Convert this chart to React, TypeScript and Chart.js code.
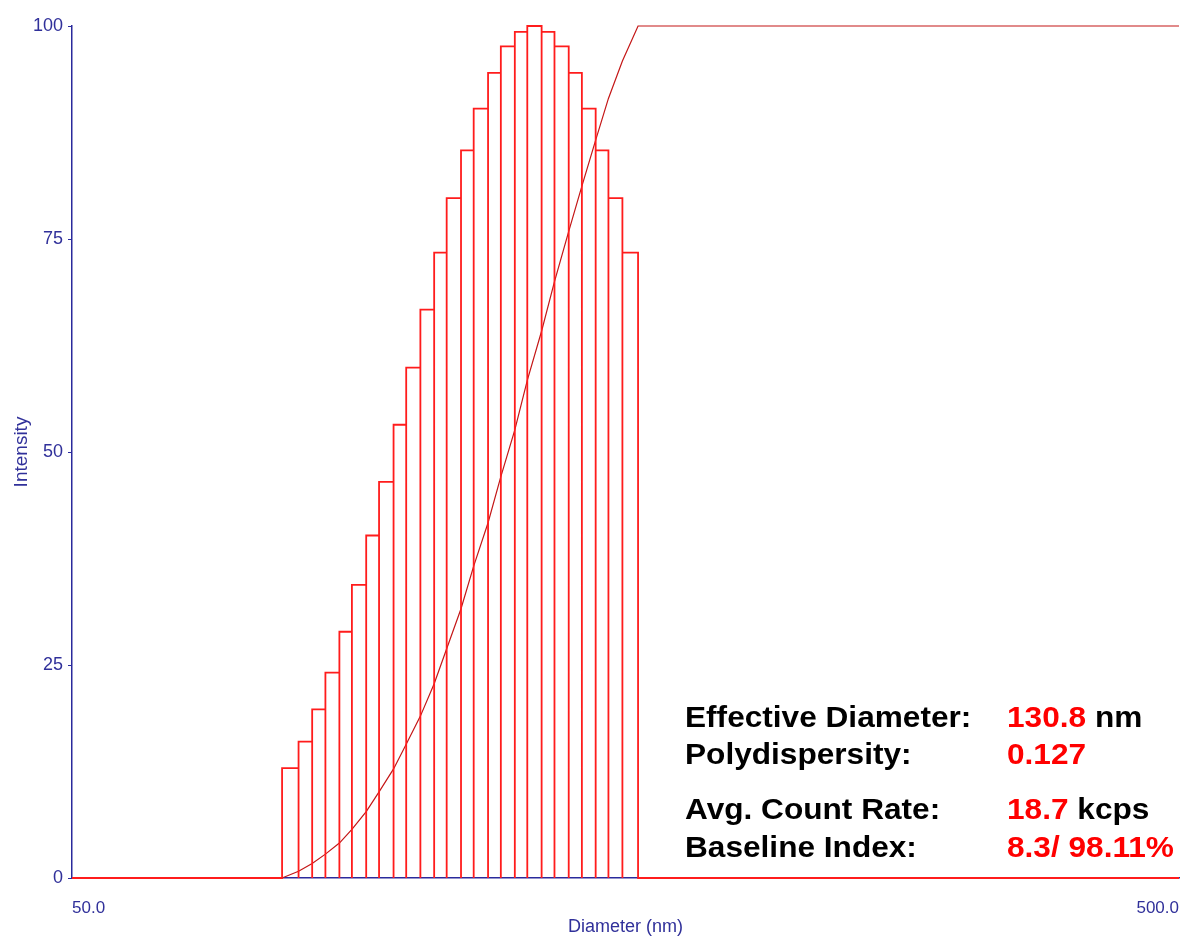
import { useEffect, useRef } from "react";
import { Chart, registerables } from "chart.js";

Chart.register(...registerables);

// Diameter axis range (nm, logarithmic)
const DIAMETER_MIN = 50;
const DIAMETER_MAX = 500;

// Histogram bin boundaries (nm) and relative intensity of each bin
const binEdges = [
  77.4, 80.1, 82.4, 84.7, 87.2, 89.5, 92.2, 94.7, 97.6, 100.2, 103.2, 106.2, 109.0,
  112.3, 115.3, 118.8, 122.0, 125.6, 128.9, 132.8, 136.4, 140.5, 144.4, 148.6, 152.6,
  157.1, 162.3,
];
const binIntensity = [
  12.9, 16.0, 19.8, 24.1, 28.9, 34.4, 40.2, 46.5, 53.2, 59.9, 66.7, 73.4, 79.8,
  85.4, 90.3, 94.5, 97.6, 99.3, 100, 99.3, 97.6, 94.5, 90.3, 85.4, 79.8, 73.4,
];
// Cumulative intensity (%) at each bin boundary
const cumulative = [
  0, 0.8, 1.7, 2.8, 4.1, 5.7, 7.8, 10.1, 12.8, 15.7, 19.0, 22.8, 26.9, 31.6, 36.6,
  41.7, 47.1, 52.6, 58.4, 64.2, 70.0, 75.9, 81.2, 86.6, 91.5, 95.9, 100,
];

const intensityTicks = [0, 25, 50, 75, 100];
const diameterTicks = [50, 500];

// Measurement summary
const statLabels = ["Effective Diameter:", "Polydispersity:", "Avg. Count Rate:", "Baseline Index:"];
const statValues = ["130.8", "0.127", "18.7", "8.3/ 98.11%"];
const statUnits = [" nm", "", " kcps", ""];

const AXIS_BLUE = "#2a2a9c";
const TEXT_BLUE = "#30309a";
const HIST_RED = "#ff1c1c";
const CURVE_RED = "#c41616";
const FONT = '"Liberation Sans", Arial, sans-serif';

// Outline of the histogram: each bin is an open box (left, top, right)
function histogramOutline() {
  const pts: { x: number; y: number }[] = [{ x: DIAMETER_MIN, y: 0 }];
  binEdges.forEach((edge, i) => {
    if (i > 0) pts.push({ x: edge, y: binIntensity[i - 1] });
    pts.push({ x: edge, y: 0 });
    if (i < binIntensity.length) pts.push({ x: edge, y: binIntensity[i] });
  });
  pts.push({ x: DIAMETER_MAX, y: 0 });
  return pts;
}

function cumulativeCurve() {
  return [
    { x: DIAMETER_MIN, y: 0 },
    ...binEdges.map((edge, i) => ({ x: edge, y: cumulative[i] })),
    { x: DIAMETER_MAX, y: 100 },
  ];
}

// Summary block drawn in the lower right of the plot
const statsPlugin = {
  id: "statsBlock",
  afterDraw(chart: Chart) {
    const ctx = chart.ctx;
    const labelX = 685;
    const valueX = 1007;
    const baselines = [727, 764, 819, 857];
    const stretch = 1.09;
    ctx.save();
    ctx.font = `bold 29px ${FONT}`;
    ctx.textBaseline = "alphabetic";
    ctx.textAlign = "left";
    const put = (text: string, x: number, y: number, color: string) => {
      ctx.save();
      ctx.translate(x, y);
      ctx.scale(stretch, 1);
      ctx.fillStyle = color;
      ctx.fillText(text, 0, 0);
      ctx.restore();
      return ctx.measureText(text).width * stretch;
    };
    statLabels.forEach((label, i) => {
      const y = baselines[i];
      put(label, labelX, y, "#000000");
      const w = put(statValues[i], valueX, y, "#ff0000");
      if (statUnits[i]) put(statUnits[i], valueX + w, y, "#000000");
    });
    ctx.restore();
  },
};

export default function App() {
  const canvasRef = useRef<HTMLCanvasElement | null>(null);

  useEffect(() => {
    if (!canvasRef.current) return;
    const chart = new Chart(canvasRef.current, {
      type: "line",
      data: {
        datasets: [
          {
            label: "Intensity",
            data: histogramOutline(),
            borderColor: HIST_RED,
            borderWidth: 1.8,
            pointRadius: 0,
            tension: 0,
            fill: false,
            clip: false as any,
          },
          {
            label: "Cumulative",
            data: cumulativeCurve(),
            borderColor: CURVE_RED,
            borderWidth: 1.2,
            pointRadius: 0,
            tension: 0,
            fill: false,
            clip: false as any,
          },
        ],
      },
      options: {
        responsive: false,
        animation: false,
        layout: { padding: { top: 26, right: 6, left: 0, bottom: 0 } },
        plugins: {
          legend: { display: false },
          tooltip: { enabled: false },
          title: { display: false },
        },
        scales: {
          x: {
            type: "logarithmic",
            min: DIAMETER_MIN,
            max: DIAMETER_MAX,
            afterBuildTicks: (scale: any) => {
              scale.ticks = diameterTicks.map((v) => ({ value: v }));
            },
            afterFit: (scale: any) => {
              scale.height = 60;
              scale.paddingLeft = 0;
              scale.paddingRight = 0;
            },
            ticks: {
              autoSkip: false,
              maxRotation: 0,
              align: "inner",
              padding: 12,
              color: TEXT_BLUE,
              font: { family: FONT, size: 17 },
              callback: (v: any) => Number(v).toFixed(1),
            },
            grid: { display: false },
            border: { display: true, color: AXIS_BLUE, width: 1.5 },
            title: {
              display: true,
              text: "Diameter (nm)",
              color: TEXT_BLUE,
              font: { family: FONT, size: 18 },
              padding: { top: 0, bottom: 0 },
            },
          },
          y: {
            type: "linear",
            min: 0,
            max: 100,
            afterBuildTicks: (scale: any) => {
              scale.ticks = intensityTicks.map((v) => ({ value: v }));
            },
            afterFit: (scale: any) => {
              scale.width = 72;
              scale.paddingTop = 0;
              scale.paddingBottom = 0;
            },
            ticks: {
              padding: 5,
              color: TEXT_BLUE,
              font: { family: FONT, size: 18 },
            },
            grid: {
              display: true,
              drawOnChartArea: false,
              drawTicks: true,
              tickLength: 4,
              color: AXIS_BLUE,
              lineWidth: 1,
            },
            border: { display: true, color: AXIS_BLUE, width: 1.5 },
            title: {
              display: true,
              text: "Intensity",
              color: TEXT_BLUE,
              font: { family: FONT, size: 19 },
              padding: { top: 10, bottom: 0 },
            },
          },
        },
      },
      plugins: [statsPlugin],
    });
    return () => chart.destroy();
  }, []);

  return (
    <div style={{ position: "absolute", left: 0, top: 0, width: 1185, height: 938, background: "#ffffff" }}>
      <canvas ref={canvasRef} width={1185} height={938} />
    </div>
  );
}
